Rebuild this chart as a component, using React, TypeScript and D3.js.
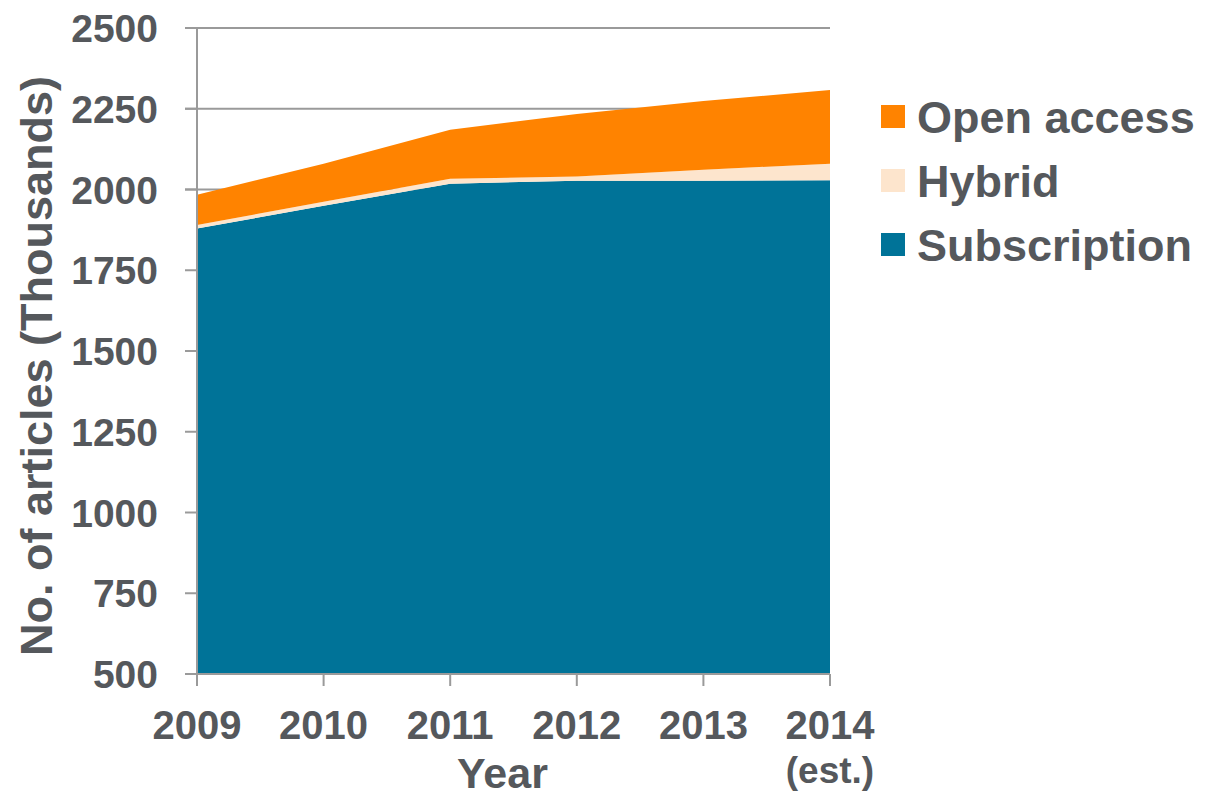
import React from 'react';
import * as d3 from 'd3';

const years = ['2009', '2010', '2011', '2012', '2013', '2014'];
const subscription = [1879, 1950, 2018, 2027, 2027, 2029];
const hybrid = [11, 12, 15, 13, 34, 51];
const openAccess = [94, 118, 152, 194, 213, 228];
const yTicks = [500, 750, 1000, 1250, 1500, 1750, 2000, 2250, 2500];
const gridTicks = [2000, 2250, 2500];
const seriesKeys = ['subscription', 'hybrid', 'openAccess'];
const seriesNames = { openAccess: 'Open access', hybrid: 'Hybrid', subscription: 'Subscription' };
const colors = { subscription: '#007398', hybrid: '#FDE5CD', openAccess: '#FF8300' };
const legendOrder = ['openAccess', 'hybrid', 'subscription'];

const W = 1207;
const H = 799;
const left = 197;
const top = 28;
const iwidth = 633;
const iheight = 646;
const textColor = '#55585C';
const axisColor = '#9A9A9A';
const font = '"Liberation Sans", Arial, sans-serif';

const rows = years.map((y, i) => ({
  year: y,
  subscription: subscription[i],
  hybrid: hybrid[i],
  openAccess: openAccess[i],
}));

export default function App() {
  const x = d3.scalePoint().domain(years).range([0, iwidth]);
  const y = d3.scaleLinear().domain([500, 2500]).range([iheight, 0]);

  const stack = d3.stack().keys(seriesKeys);
  const layers = stack(rows as any);
  // subscription area sits on the axis floor (500)
  const area = d3.area<any>()
    .x((d) => x(d.data.year) as number)
    .y0((d) => y(Math.max(d[0], 500)))
    .y1((d) => y(d[1]));

  return (
    <svg width={W} height={H} style={{ position: 'absolute', left: 0, top: 0 }} fontFamily={font} fontWeight="bold">
      <g transform={`translate(${left},${top})`}>
        {gridTicks.map((t) => (
          <line key={t} x1={-12} x2={iwidth} y1={y(t)} y2={y(t)} stroke={axisColor} strokeWidth={2} />
        ))}
        {layers.map((layer) => (
          <path key={layer.key} d={area(layer as any) || ''} fill={(colors as any)[layer.key]} />
        ))}
        <line x1={0} x2={0} y1={0} y2={iheight} stroke={axisColor} strokeWidth={2} />
        <line x1={-12} x2={iwidth} y1={iheight} y2={iheight} stroke={axisColor} strokeWidth={2} />
        {yTicks.map((t) => (
          <g key={t} transform={`translate(0,${y(t)})`}>
            <line x1={-12} x2={0} stroke={axisColor} strokeWidth={2} />
            <text x={-39} dy="0.36em" textAnchor="end" fontSize={39} fill={textColor}>{t}</text>
          </g>
        ))}
        {years.map((yr) => (
          <g key={yr} transform={`translate(${x(yr)},${iheight})`}>
            <line y1={0} y2={12} stroke={axisColor} strokeWidth={2} />
            <text y={65} textAnchor="middle" fontSize={40} fill={textColor}>{yr}</text>
          </g>
        ))}
        <text x={x('2014')} y={iheight + 109} textAnchor="middle" fontSize={37} fill={textColor}>(est.)</text>
        <text x={iwidth / 2 - 11} y={iheight + 114} textAnchor="middle" fontSize={43} fill={textColor}>Year</text>
        <text transform={`translate(${-145},${iheight / 2 + 15}) rotate(-90)`} textAnchor="middle" fontSize={45} fill={textColor}>
          No. of articles (Thousands)
        </text>
      </g>
      <g transform="translate(881,105)">
        {legendOrder.map((k, i) => (
          <g key={k} transform={`translate(0,${i * 64})`}>
            <rect width={24} height={23} fill={(colors as any)[k]} />
            <text x={36} y={11.5} dy="0.36em" fontSize={45} fill={textColor}>{(seriesNames as any)[k]}</text>
          </g>
        ))}
      </g>
    </svg>
  );
}
